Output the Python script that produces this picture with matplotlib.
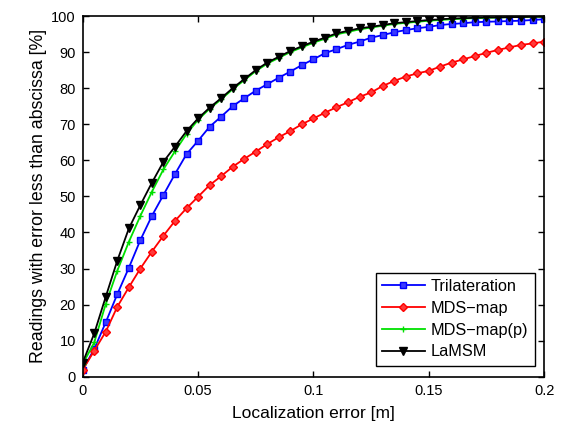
import numpy as np
import matplotlib
matplotlib.use('Agg')
import matplotlib.pyplot as plt

plt.rcParams['font.family'] = ['Liberation Sans', 'DejaVu Sans']

# localization error grid [m]
err = np.round(np.arange(0, 0.2001, 0.005), 3)

# cumulative % of readings with error below abscissa
trilateration = [1.9, 7.7, 15.1, 22.9, 30.2, 37.9, 44.6, 50.4, 56.2, 61.7,
                 65.4, 69.3, 72.1, 75.0, 77.2, 79.3, 81.1, 82.9, 84.6, 86.4,
                 88.0, 89.7, 90.8, 92.0, 92.9, 94.0, 94.7, 95.5, 96.1, 96.6,
                 97.0, 97.5, 97.8, 98.0, 98.3, 98.4, 98.5, 98.6, 98.7, 98.9,
                 99.1]
mds_map = [1.9, 7.2, 12.5, 19.4, 24.8, 30.0, 34.7, 39.1, 43.2, 46.7,
           49.9, 53.1, 55.6, 58.2, 60.4, 62.4, 64.5, 66.4, 68.1, 70.0,
           71.6, 73.2, 74.7, 76.1, 77.6, 78.8, 80.6, 82.0, 83.2, 84.1,
           84.8, 86.0, 87.1, 88.0, 88.9, 89.8, 90.6, 91.3, 92.0, 92.4,
           92.9]
mds_map_p = [3.5, 9.5, 20.2, 29.4, 37.4, 44.6, 51.3, 57.5, 62.5, 67.3,
             71.2, 74.3, 76.9, 79.7, 82.2, 84.7, 86.8, 88.4, 90.0, 91.3,
             92.6, 93.7, 94.9, 95.6, 96.3, 96.8, 97.3, 97.8, 98.1, 98.4,
             98.7, 98.9, 99.1, 99.3, 99.4, 99.5, 99.6, 99.7, 99.7, 99.8,
             99.8]
lamsm = [3.9, 12.0, 22.2, 32.2, 41.1, 47.6, 53.8, 59.6, 63.8, 68.1,
         71.6, 74.6, 77.2, 80.0, 82.5, 85.0, 87.1, 88.7, 90.3, 91.6,
         92.9, 94.0, 95.2, 95.9, 96.6, 97.0, 97.5, 98.0, 98.3, 98.6,
         98.9, 99.1, 99.3, 99.4, 99.5, 99.6, 99.6, 99.7, 99.7, 99.8,
         99.8]

fig = plt.figure(figsize=(5.65, 4.33), dpi=100)
ax = fig.add_axes([0.1464, 0.130, 0.8166, 0.833])

lw = 1.3
ax.plot(err, trilateration, '-s', color='#0000ff', lw=lw, ms=4,
        mfc='#3a3aff', mec='#0000ff', mew=1.0, label='Trilateration')
ax.plot(err, mds_map, '-D', color='#ff0000', lw=lw, ms=4.5,
        mfc='#ff3a3a', mec='#ff0000', mew=1.0, label='MDS\u2212map')
ax.plot(err, mds_map_p, '-+', color='#00e000', lw=lw, ms=5,
        mew=1.0, label='MDS\u2212map(p)')
ax.plot(err, lamsm, '-v', color='black', lw=lw, ms=6,
        mfc='black', mec='black', label='LaMSM')

ax.set_xlim(0, 0.2)
ax.set_ylim(0, 100)
ax.set_xticks([0, 0.05, 0.1, 0.15, 0.2])
ax.set_xticklabels(['0', '0.05', '0.1', '0.15', '0.2'])
ax.set_yticks(np.arange(0, 101, 10))
ax.tick_params(direction='in', top=True, right=True, length=4,
               width=1.0, labelsize=10.5, pad=5)
for s in ax.spines.values():
    s.set_linewidth(1.2)

ax.set_xlabel('Localization error [m]', fontsize=12.5, labelpad=6)
ax.set_ylabel('Readings with error less than abscissa [%]', fontsize=12.8,
              labelpad=3)

leg = ax.legend(loc='lower right', bbox_to_anchor=(0.9805, 0.0297),
                borderaxespad=0, fontsize=11.7, fancybox=False,
                framealpha=1, edgecolor='black', handlelength=2.6,
                borderpad=0.4, labelspacing=0.42, handletextpad=0.4)
leg.get_frame().set_linewidth(1.0)

fig.savefig('out.png', dpi=100)
